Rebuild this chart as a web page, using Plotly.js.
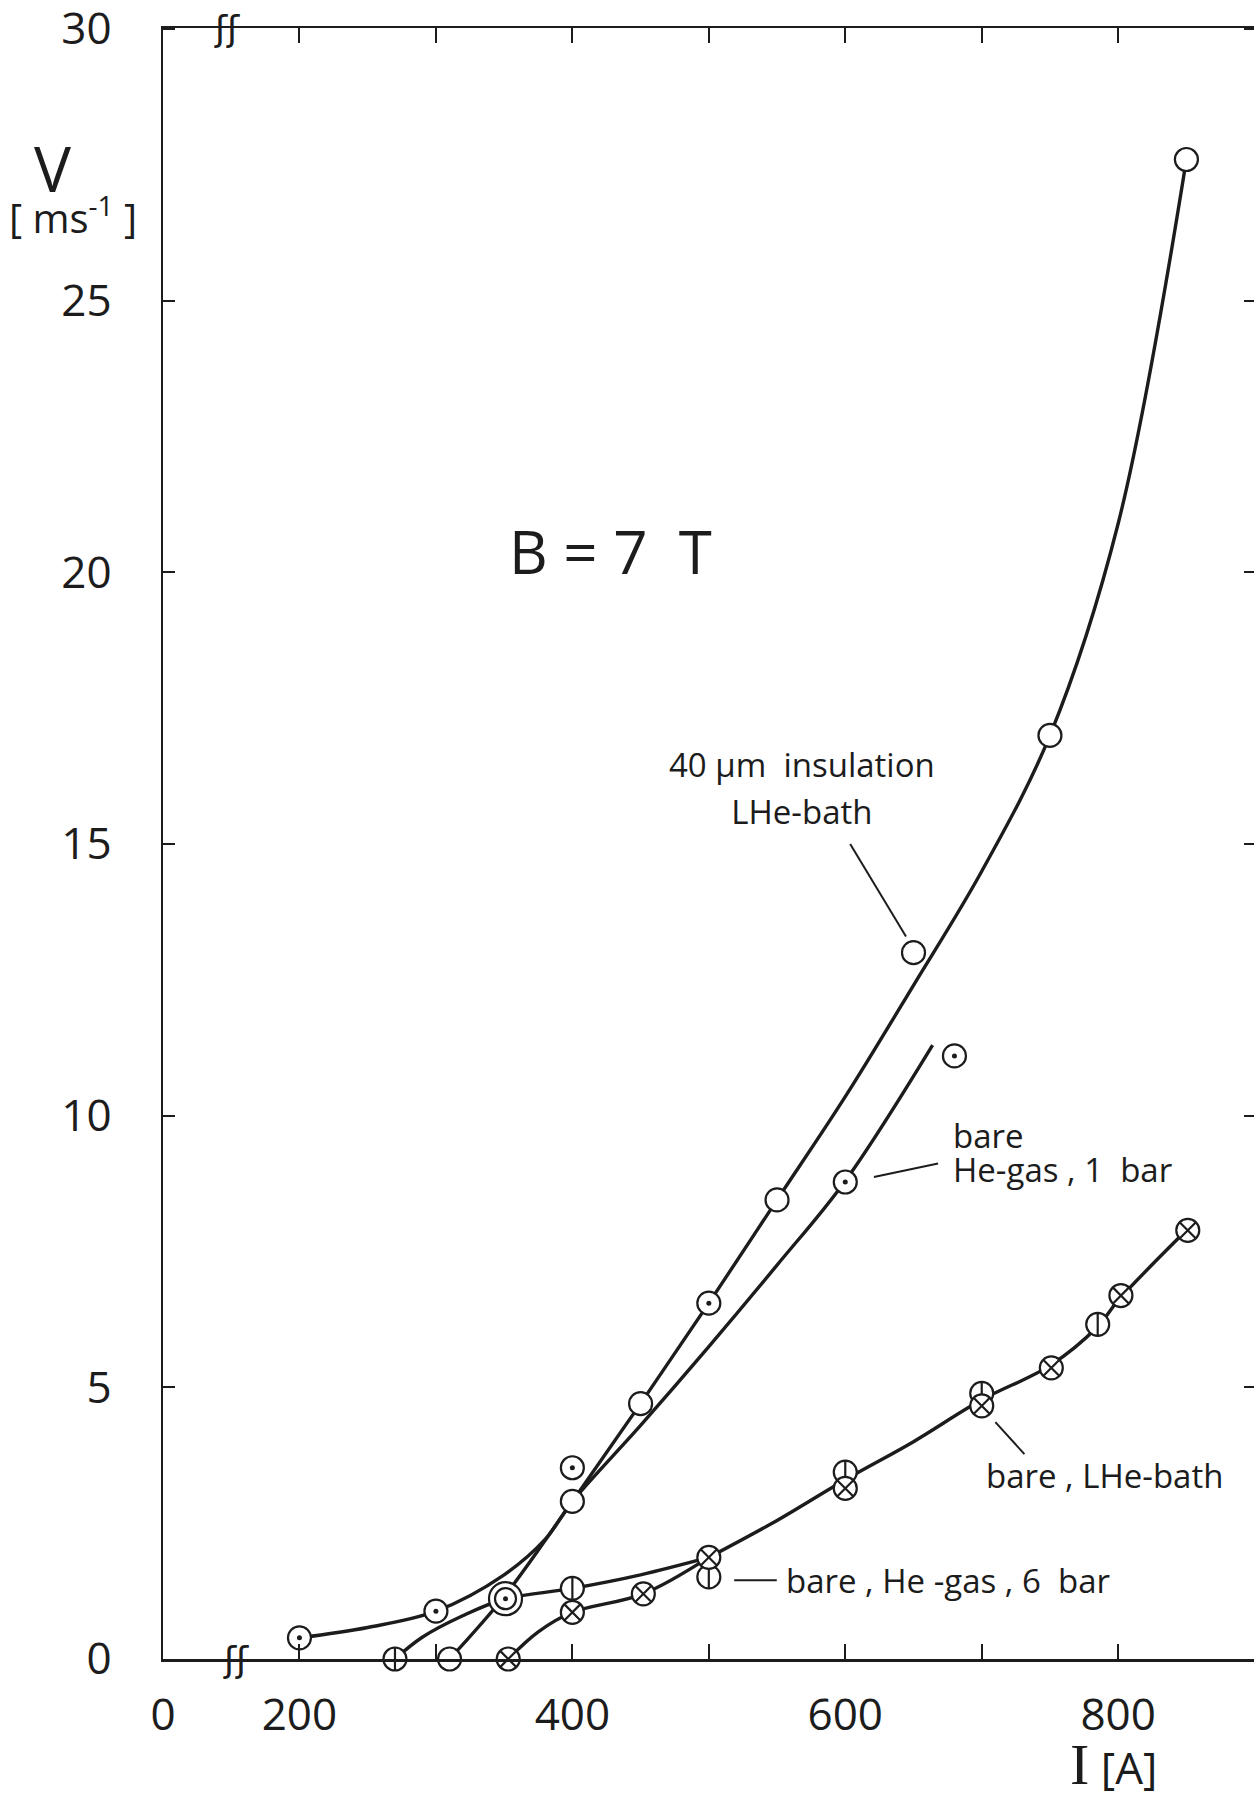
<!DOCTYPE html>
<html>
<head>
<meta charset="utf-8">
<script src="https://cdn.plot.ly/plotly-3.0.1.min.js"></script>
<style>
  html, body { margin: 0; padding: 0; background: #fff; overflow: hidden; }
  #chart { width: 1256px; height: 1801px; }
</style>
</head>
<body>
<div id="chart"></div>
<script>
// ---------------- data ----------------
// x axis is broken: the left edge (labelled "0") stands for I = 100 A
const xTickVals = [100, 200, 400, 600, 800];
const xTickText = ['0', '200', '400', '600', '800'];
const xMinorTickVals = [300, 500, 700];
const yTickVals = [0, 5, 10, 15, 20, 25, 30];
const yTickText = ['0', '5', '10', '15', '20', '25', '30'];

// 40 µm insulation, LHe-bath  (open circles)
const insulI = [310, 400, 450, 550, 650, 750, 850];
const insulV = [0, 2.9, 4.7, 8.45, 13.0, 17.0, 27.6];
const insulCurveI = [310, 350, 400, 450, 500, 550, 600, 650, 700, 750, 800, 850];
const insulCurveV = [0, 1.15, 2.9, 4.7, 6.55, 8.45, 10.35, 12.4, 14.5, 17.0, 20.9, 27.6];

// bare, He-gas 1 bar  (dotted circles)
const gas1I = [200, 300, 400, 500, 600, 680];
const gas1V = [0.39, 0.88, 3.52, 6.55, 8.78, 11.1];
const gas1CurveI = [200, 250, 300, 350, 380, 400, 450, 500, 550, 600, 664];
const gas1CurveV = [0.39, 0.58, 0.88, 1.55, 2.2, 2.9, 4.3, 5.75, 7.25, 8.8, 11.3];

// bare, He-gas 6 bar  (circle with vertical bar)
const gas6I = [270, 400, 500, 600, 700, 785];
const gas6V = [0, 1.30, 1.51, 3.44, 4.89, 6.16];
const gas6CurveI = [270, 290, 320, 350, 400, 450, 500];
const gas6CurveV = [0, 0.4, 0.8, 1.1, 1.3, 1.55, 1.87];

// bare, LHe-bath  (crossed circles)
const lheI = [353, 400, 452, 500, 600, 700, 751, 802, 851];
const lheV = [0, 0.86, 1.2, 1.87, 3.14, 4.66, 5.36, 6.69, 7.89];
const lheCurveI = [353, 375, 400, 452, 500];
const lheCurveV = [0, 0.5, 0.86, 1.2, 1.87];

// common upper branch of both bare curves (6 bar + LHe-bath)
const bareCurveI = [500, 550, 600, 650, 700, 750, 785, 800, 850];
const bareCurveV = [1.87, 2.55, 3.3, 4.0, 4.77, 5.4, 6.12, 6.6, 7.89];

// coincident point (double circle)
const commonI = [351];
const commonV = [1.11];

// ---------------- styling ----------------
const INK = '#1c1c1c';
const FONT = 'Open Sans, Lato, DejaVu Sans, sans-serif';
const MS = 23;
const LW = 2.2;

function curve(x, y) {
  return { x: x, y: y, type: 'scatter', mode: 'lines', cliponaxis: false,
    line: { color: INK, width: 3.4, shape: 'spline', smoothing: 1 }, hoverinfo: 'skip' };
}
function mark(x, y, symbol, size, fill, lw) {
  return { x: x, y: y, type: 'scatter', mode: 'markers', cliponaxis: false,
    marker: { symbol: symbol, size: size, color: fill, line: { color: INK, width: lw } } };
}

const traces = [
  curve(insulCurveI, insulCurveV),
  curve(gas1CurveI, gas1CurveV),
  curve(gas6CurveI, gas6CurveV),
  curve(lheCurveI, lheCurveV),
  curve(bareCurveI, bareCurveV),
  // 6 bar: circle + vertical bar
  mark(gas6I, gas6V, 'circle', MS, '#fff', LW),
  mark(gas6I, gas6V, 'line-ns', MS / 1.45, INK, LW),
  // LHe-bath: crossed circle
  mark(lheI, lheV, 'circle-x', MS, '#fff', LW),
  // insulation: open circle
  mark(insulI, insulV, 'circle', MS, '#fff', LW),
  // 1 bar: circle with dot
  mark(gas1I, gas1V, 'circle', MS, '#fff', LW),
  mark(gas1I, gas1V, 'circle', 5, INK, 0),
  // double circle
  mark(commonI, commonV, 'circle', 33, '#fff', LW),
  mark(commonI, commonV, 'circle', 21, '#fff', LW),
  mark(commonI, commonV, 'circle', 5, INK, 0)
];

function txt(x, y, text, size, anchor, extra) {
  return Object.assign({ x: x, y: y, xref: 'x', yref: 'y', text: text, showarrow: false,
    xanchor: anchor || 'center', yanchor: 'middle', align: anchor || 'center',
    font: { family: FONT, size: size, color: INK } }, extra || {});
}
function ptxt(x, y, text, size, extra) {
  return Object.assign({ x: x, y: y, xref: 'paper', yref: 'paper', text: text, showarrow: false,
    xanchor: 'center', yanchor: 'middle',
    font: { family: FONT, size: size, color: INK } }, extra || {});
}
function sz(px, s) { return '<span style="font-size:' + px + 'px">' + s + '</span>'; }

const LS = 33;
const annotations = [
  txt(428, 20.4, 'B = 7 \u00a0T', 60),
  txt(568, 16.03, sz(LS, '40 \u00b5m \u00a0insulation') + '<br>' + sz(LS, 'LHe-bath'), 36),
  txt(677.5, 9.33, sz(LS, 'bare') + '<br>' + sz(LS, 'He-gas , 1 \u00a0bar'), 26, 'left'),
  txt(701.7, 3.38, 'bare , LHe-bath', LS, 'left'),
  txt(555, 1.45, 'bare , He -gas , 6 \u00a0bar', LS, 'left'),
  ptxt(-0.1015, 0.9140, 'V', 62),
  ptxt(-0.0823, 0.8850, '[ ms<sup>-1</sup> ]', 40),
  ptxt(0.870, -0.0645, '<span style="font-family:Liberation Serif;font-size:58px">I</span> [A]', 44),
  ptxt(0.0586, 1.0, '\u0283\u0283', 36, { font: { family: 'DejaVu Sans', size: 36, color: INK } }),
  ptxt(0.0668, 0.0, '\u0283\u0283', 36, { font: { family: 'DejaVu Sans', size: 36, color: INK } })
];

function seg(x0, y0, x1, y1) {
  return { type: 'line', xref: 'x', yref: 'y', x0: x0, y0: y0, x1: x1, y1: y1,
    line: { color: INK, width: 2 } };
}
const shapes = [
  seg(603.6, 15.0, 644.5, 13.3),
  seg(621, 8.87, 668, 9.12),
  seg(518.6, 1.45, 549.8, 1.45),
  seg(710, 4.36, 731.3, 3.77)
];

const layout = {
  width: 1256, height: 1801,
  margin: { l: 163, r: 0, t: 28, b: 142, pad: 0 },
  paper_bgcolor: '#fff', plot_bgcolor: '#fff',
  showlegend: false,
  font: { family: FONT, color: INK },
  xaxis: {
    range: [100, 901], tickmode: 'array', tickvals: xTickVals, ticktext: xTickText,
    minor: { tickmode: 'array', tickvals: xMinorTickVals, ticks: 'inside', ticklen: 15,
             tickwidth: 2, tickcolor: INK, showgrid: false },
    showgrid: false, zeroline: false, showline: true, linecolor: INK, linewidth: 2.5,
    mirror: 'all', ticks: 'inside', ticklen: 15, tickwidth: 2, tickcolor: INK,
    tickfont: { family: FONT, size: 44, color: INK }, ticklabelstandoff: 16,
    ticklabeloverflow: 'allow'
  },
  yaxis: {
    range: [0, 30.02], tickmode: 'array', tickvals: yTickVals, ticktext: yTickText,
    showgrid: false, zeroline: false, showline: true, linecolor: INK, linewidth: 2.5,
    mirror: 'ticks', ticks: 'inside', ticklen: 12, tickwidth: 2, tickcolor: INK,
    tickfont: { family: FONT, size: 44, color: INK }, ticklabelstandoff: 40,
    ticklabeloverflow: 'allow'
  },
  annotations: annotations,
  shapes: shapes
};

Plotly.newPlot('chart', traces, layout, { staticPlot: true, displayModeBar: false });
</script>
</body>
</html>
